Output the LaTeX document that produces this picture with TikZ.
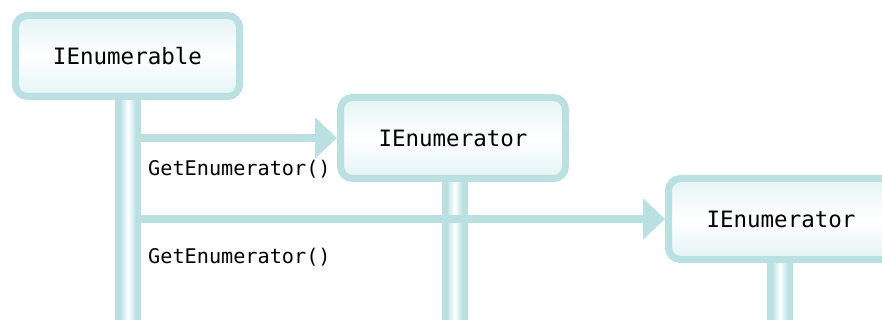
\documentclass[tikz,border=0pt]{standalone}
\usepackage{fontspec}
\setmonofont{DejaVu Sans Mono}
\usetikzlibrary{arrows.meta}
\definecolor{teal1}{RGB}{186,224,226}
\definecolor{pale}{RGB}{228,243,244}
\tikzset{
  objbox/.style={draw=teal1, line width=7pt, rounded corners=12pt, rectangle,
    top color=pale, bottom color=pale, middle color=white,
    minimum width=225pt, minimum height=81pt, inner sep=0pt,
    font=\ttfamily\fontsize{22.5}{26}\selectfont, text=black},
  msg/.style={draw=teal1, line width=8pt, -{Triangle[length=22pt,width=40pt]}},
  msglabel/.style={anchor=west, inner sep=0pt, font=\ttfamily\fontsize{20.2}{24}\selectfont, text=black},
}
\newcommand{\lifeline}[3]{%
  \fill[teal1] (#1-13,#2) rectangle (#1+13,#3);
  \shade[left color=teal1, right color=teal1, middle color=white] (#1-8,#2) rectangle (#1+8,#3);
}
\begin{document}
\begin{tikzpicture}[x=1pt,y=-1pt]
\clip (0,0) rectangle (882,320);
\fill[white] (0,0) rectangle (882,320);
% lifelines
\lifeline{128}{90}{320}
\lifeline{454.5}{170}{320}
\lifeline{780}{250}{320}
% boxes
\node[objbox, minimum width=224pt] (enumerable) at (127.5,56) {IEnumerable};
\node[objbox] (enum1) at (453,138) {IEnumerator};
\node[objbox] (enum2) at (781,219) {IEnumerator};
% message starts
\coordinate (s1) at (140,138);
\coordinate (s2) at (140,219);
\draw[msg] (s1) -- (enum1.west);
\draw[msg] (s2) -- (enum2.west);
\node[msglabel] (l1) at (148,169) {GetEnumerator()};
\node[msglabel] (l2) at (148,257) {GetEnumerator()};
\end{tikzpicture}
\end{document}
